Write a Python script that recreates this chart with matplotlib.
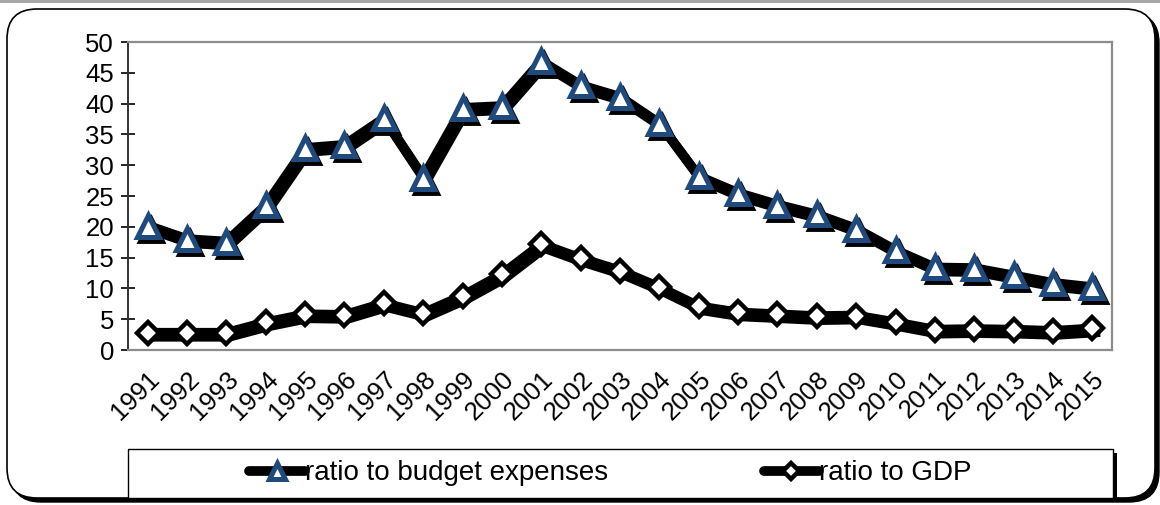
import matplotlib
matplotlib.use("Agg")
import matplotlib.pyplot as plt
import matplotlib.transforms as mtransforms
from matplotlib.patches import FancyBboxPatch, Rectangle

plt.rcParams['font.family'] = ['Liberation Sans', 'DejaVu Sans']

# Data
years = [str(y) for y in range(1991, 2016)]
budget_ratio = [20.2, 18.0, 17.6, 23.5, 32.8, 33.3, 37.6, 28.0, 39.3, 39.6,
                46.9, 43.0, 41.1, 36.8, 28.2, 25.5, 23.6, 22.0, 19.7, 16.2,
                13.4, 13.3, 12.1, 10.9, 10.2]
gdp_ratio = [2.8, 2.8, 2.8, 4.5, 5.8, 5.7, 7.6, 6.0, 8.8, 12.3,
             17.2, 14.9, 12.9, 10.2, 7.1, 6.1, 5.8, 5.5, 5.6, 4.5,
             3.3, 3.4, 3.3, 3.1, 3.5]
y_ticks = list(range(0, 51, 5))

BLUE = '#1F4A7E'
GRID_GRAY = '#8c8c8c'
W, H = 1160, 505

fig = plt.figure(figsize=(W / 100, H / 100), dpi=100)

# thin gray strip along the top edge
fig.patches.append(Rectangle((0, 1 - 3 / H), 1, 3 / H, transform=fig.transFigure,
                             facecolor='#a6a6a6', edgecolor='none', zorder=-3))

# rounded outer frame with a dark drop shadow
fx0, fy0, fx1, fy1 = 7 / W, 1 - 498 / H, 1155 / W, 1 - 9 / H
radius = 30 / W
shadow_tr = fig.transFigure + mtransforms.Affine2D().translate(4, -4)
fig.patches.append(FancyBboxPatch((fx0, fy0), fx1 - fx0, fy1 - fy0,
                                  boxstyle=f'round,pad=0,rounding_size={radius}',
                                  mutation_aspect=W / H,
                                  transform=shadow_tr, facecolor='black',
                                  edgecolor='black', zorder=-3))
fig.patches.append(FancyBboxPatch((fx0, fy0), fx1 - fx0, fy1 - fy0,
                                  boxstyle=f'round,pad=0,rounding_size={radius}',
                                  mutation_aspect=W / H,
                                  transform=fig.transFigure, facecolor='white',
                                  edgecolor='black', linewidth=1.2, zorder=-2))

# legend box: square frame with a black shadow on the right
lx0, ly0, lw, lh = 128 / W, 1 - 498 / H, 985 / W, 49 / H
fig.patches.append(Rectangle((lx0, ly0), lw, lh, transform=shadow_tr,
                             facecolor='black', edgecolor='none', zorder=-1))
fig.patches.append(Rectangle((lx0, ly0), lw, lh, transform=fig.transFigure,
                             facecolor='white', edgecolor='black', linewidth=1,
                             zorder=-1))

ax = fig.add_axes([128 / W, 1 - 350 / H, 984 / W, 308 / H])
ax.set_facecolor('none')

x = list(range(len(years)))
shadow = mtransforms.offset_copy(ax.transData, fig=fig, x=3, y=-4, units='dots')

# shadows first, then the series on top
ax.plot(x, budget_ratio, color='black', lw=7, marker='^', ms=16, mfc='black',
        mec='black', mew=3.5, transform=shadow, zorder=2, solid_joinstyle='round')
ax.plot(x, gdp_ratio, color='black', lw=7, zorder=2, transform=shadow,
        solid_joinstyle='round')

l1, = ax.plot(x, budget_ratio, color='black', lw=7, marker='^', ms=16, mfc='white',
              mec=BLUE, mew=3.6, zorder=3, solid_joinstyle='round',
              solid_capstyle='round', label='ratio to budget expenses')
l2, = ax.plot(x, gdp_ratio, color='black', lw=7, marker='D', ms=11, mfc='white',
              mec='black', mew=3.2, zorder=3, solid_joinstyle='round',
              solid_capstyle='round', label='ratio to GDP')

ax.set_xlim(-0.5, len(years) - 0.5)
ax.set_ylim(0, 50)
ax.set_yticks(y_ticks)
ax.set_xticks(x)
ax.set_xticklabels(years, rotation=45, ha='right', rotation_mode='anchor')
ax.tick_params(axis='y', direction='inout', length=10, width=1.2, labelsize=18.5, pad=5)
ax.tick_params(axis='x', length=0, labelsize=18.5, pad=12)

for side in ['top', 'right', 'bottom']:
    ax.spines[side].set_color(GRID_GRAY)
    ax.spines[side].set_linewidth(1.6)
ax.spines['left'].set_color('#333333')
ax.spines['left'].set_linewidth(1.4)

fig.legend(handles=[l1, l2], loc='center',
           bbox_to_anchor=(lx0 - 10 / W, ly0, lw, lh),
           ncol=2, fontsize=20, frameon=False,
           handlelength=2.0, handletextpad=0.0, columnspacing=5.6,
           borderaxespad=0, markerscale=0.75)

fig.savefig('out.png', dpi=100)
